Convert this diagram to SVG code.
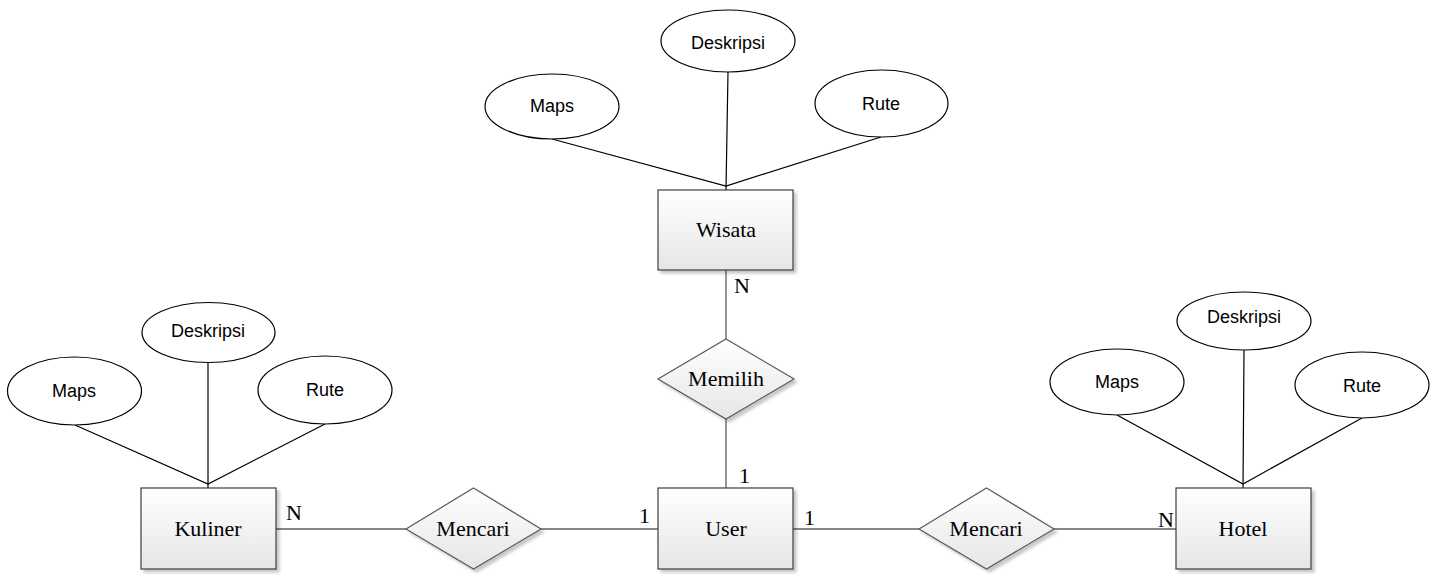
<svg xmlns="http://www.w3.org/2000/svg" width="1440" height="575" viewBox="0 0 1440 575">
<defs>
<linearGradient id="gEnt" x1="0" y1="0" x2="0" y2="1">
<stop offset="0" stop-color="#ffffff"/>
<stop offset="1" stop-color="#e6e6e6"/>
</linearGradient>
<filter id="sh" x="-10%" y="-10%" width="130%" height="130%">
<feDropShadow dx="3" dy="3" stdDeviation="1.5" flood-color="#000" flood-opacity="0.22"/>
</filter>
</defs>
<style>
.ent{fill:url(#gEnt);stroke:#3c3c3c;stroke-width:1.2;filter:url(#sh)}
.rel{fill:url(#gEnt);stroke:#5a5a5a;stroke-width:1.2;filter:url(#sh)}
.att{fill:#ffffff;stroke:#000;stroke-width:1.2}
.al{stroke:#000;stroke-width:1.2;fill:none}
.cl{stroke:#5f5f5f;stroke-width:1.3;fill:none}
.st{font-family:"Liberation Serif","Times New Roman",serif;font-size:22px;fill:#000}
.ss{font-family:"Liberation Sans",Arial,sans-serif;font-size:18px;fill:#000}
.c{text-anchor:middle}
</style>
<rect width="1440" height="575" fill="#fff"/>

<g id="connectors">
<!-- Wisata attributes -->
<polyline class="al" points="552,139 726,186 881,137"/>
<line class="al" x1="728" y1="72" x2="726" y2="190"/>
<!-- Kuliner attributes -->
<polyline class="al" points="75,425 208,484 325,424"/>
<line class="al" x1="208" y1="362" x2="208" y2="488"/>
<!-- Hotel attributes -->
<polyline class="al" points="1117,415 1243,484 1362,418"/>
<line class="al" x1="1244" y1="350" x2="1243" y2="488"/>
<!-- relationships -->
<line class="cl" x1="726" y1="270" x2="726" y2="339"/>
<line class="cl" x1="726" y1="419" x2="726" y2="488"/>
<line class="cl" x1="276" y1="529" x2="406" y2="529"/>
<line class="cl" x1="541" y1="529" x2="658" y2="529"/>
<line class="cl" x1="793" y1="529" x2="919" y2="529"/>
<line class="cl" x1="1054" y1="529" x2="1176" y2="529"/>
<text class="st" x="734" y="293">N</text>
<text class="st" x="739" y="483">1</text>
<text class="st" x="639" y="523">1</text>
<text class="st" x="804" y="525">1</text>
<text class="st" x="286" y="520">N</text>
<text class="st" x="1158" y="527">N</text>
</g>

<g id="wisata">
<rect class="ent" x="658" y="190" width="135" height="80"/>
<text class="st c" x="726" y="237">Wisata</text>
</g>
<g id="wisata-maps">
<ellipse class="att" cx="552" cy="106.5" rx="67" ry="32.5"/>
<text class="ss c" x="552" y="112">Maps</text>
</g>
<g id="wisata-deskripsi">
<ellipse class="att" cx="728" cy="41" rx="67" ry="31"/>
<text class="ss c" x="728" y="49">Deskripsi</text>
</g>
<g id="wisata-rute">
<ellipse class="att" cx="881.5" cy="103.5" rx="66.5" ry="33.5"/>
<text class="ss c" x="881" y="110">Rute</text>
</g>

<g id="memilih">
<polygon class="rel" points="726,339 794,379 726,419 658,379"/>
<text class="st c" x="726" y="386">Memilih</text>
</g>

<g id="user">
<rect class="ent" x="658" y="488" width="135" height="81"/>
<text class="st c" x="726" y="536">User</text>
</g>

<g id="kuliner">
<rect class="ent" x="141" y="488" width="135" height="81"/>
<text class="st c" x="208" y="536">Kuliner</text>
</g>
<g id="kuliner-maps">
<ellipse class="att" cx="74.5" cy="391" rx="67" ry="34"/>
<text class="ss c" x="74" y="397">Maps</text>
</g>
<g id="kuliner-deskripsi">
<ellipse class="att" cx="208.5" cy="332.5" rx="66.5" ry="30"/>
<text class="ss c" x="208" y="337">Deskripsi</text>
</g>
<g id="kuliner-rute">
<ellipse class="att" cx="325" cy="390" rx="67" ry="34"/>
<text class="ss c" x="325" y="396">Rute</text>
</g>

<g id="mencari-kuliner">
<polygon class="rel" points="473.5,488 541,529 473.5,569 406,529"/>
<text class="st c" x="473" y="536">Mencari</text>
</g>

<g id="mencari-hotel">
<polygon class="rel" points="986.5,488 1054,529 986.5,569 919,529"/>
<text class="st c" x="986" y="536">Mencari</text>
</g>

<g id="hotel">
<rect class="ent" x="1176" y="488" width="135" height="81"/>
<text class="st c" x="1243" y="536">Hotel</text>
</g>
<g id="hotel-maps">
<ellipse class="att" cx="1117" cy="382" rx="67" ry="33"/>
<text class="ss c" x="1117" y="388">Maps</text>
</g>
<g id="hotel-deskripsi">
<ellipse class="att" cx="1244" cy="321" rx="67" ry="29"/>
<text class="ss c" x="1244" y="323">Deskripsi</text>
</g>
<g id="hotel-rute">
<ellipse class="att" cx="1362" cy="385" rx="67" ry="33"/>
<text class="ss c" x="1362" y="392">Rute</text>
</g>
</svg>
